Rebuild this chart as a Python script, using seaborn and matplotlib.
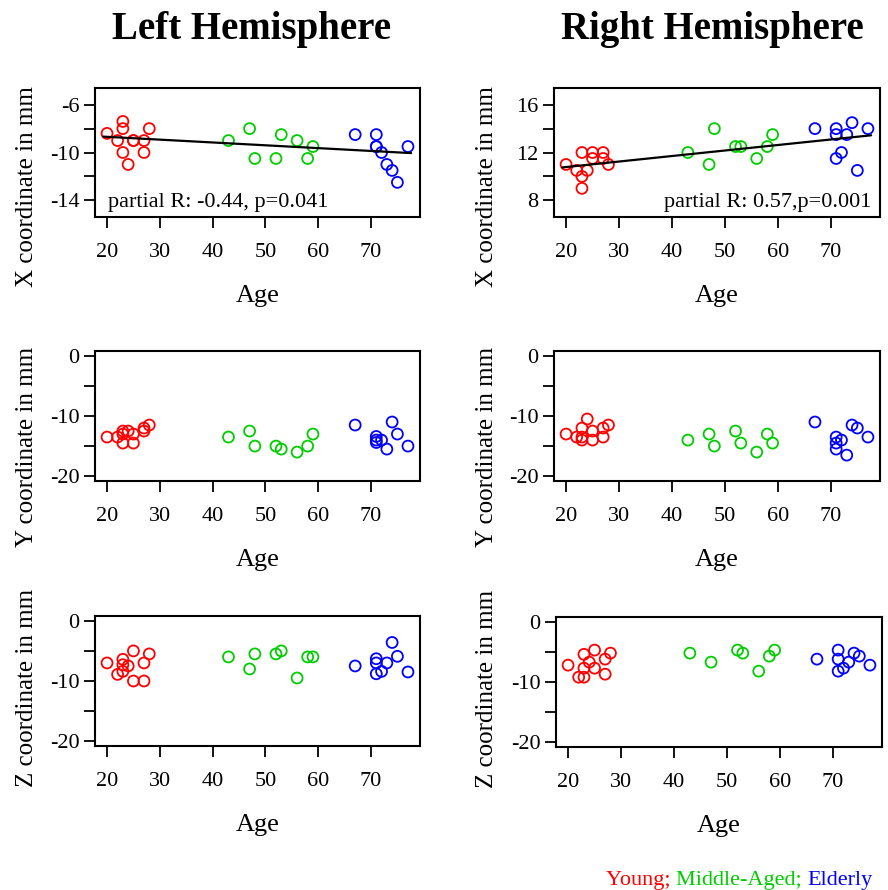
import numpy as np
import pandas as pd
import matplotlib
matplotlib.use("Agg")
import matplotlib.pyplot as plt
import seaborn as sns

# ---------------- data ----------------
groups = ["Young", "Middle-Aged", "Elderly"]
group_colors = ["#FF0000", "#00CD00", "#0000FF"]

age_young = [20, 22, 23, 23, 23, 24, 25, 25, 27, 27, 28]
age_middle = [43, 47, 48, 52, 53, 56, 58, 59]
age_elderly = [67, 71, 71, 71, 72, 73, 74, 75, 77]

# Left hemisphere
lx_young = [-8.4, -9.0, -7.4, -8.0, -10.0, -11.0, -9.0, -9.0, -9.0, -10.0, -8.0]
lx_middle = [-9.0, -8.0, -10.5, -10.5, -8.5, -9.0, -10.5, -9.5]
lx_elderly = [-8.5, -8.5, -9.5, -9.5, -10.0, -11.0, -11.5, -12.5, -9.5]

ly_young = [-13.5, -13.5, -12.5, -14.5, -13.0, -12.5, -13.0, -14.5, -12.5, -12.0, -11.5]
ly_middle = [-13.5, -12.5, -15.0, -15.0, -15.5, -16.0, -15.0, -13.0]
ly_elderly = [-11.5, -13.4, -14.0, -14.4, -14.0, -15.5, -11.0, -13.0, -15.0]

lz_young = [-7.0, -8.9, -6.4, -7.3, -8.4, -7.5, -5.0, -10.0, -7.0, -10.0, -5.5]
lz_middle = [-6.0, -8.0, -5.5, -5.5, -5.0, -9.5, -6.0, -6.0]
lz_elderly = [-7.5, -6.3, -7.0, -8.8, -8.4, -7.0, -3.6, -5.9, -8.5]

# Right hemisphere
rx_young = [11.0, 10.5, 12.0, 10.0, 9.0, 10.5, 12.0, 11.5, 12.0, 11.5, 11.0]
rx_middle = [12.0, 11.0, 14.0, 12.5, 12.5, 11.5, 12.5, 13.5]
rx_elderly = [14.0, 14.0, 13.5, 11.5, 12.0, 13.5, 14.5, 10.5, 14.0]

ry_young = [-13.0, -13.5, -12.0, -13.5, -14.0, -10.5, -12.5, -14.0, -12.0, -13.5, -11.5]
ry_middle = [-14.0, -13.0, -15.0, -12.5, -14.5, -16.0, -13.0, -14.5]
ry_elderly = [-11.0, -13.5, -14.5, -15.5, -14.0, -16.5, -11.5, -12.0, -13.5]

rz_young = [-7.2, -9.2, -5.4, -7.7, -9.2, -6.7, -4.7, -7.7, -6.2, -8.7, -5.2]
rz_middle = [-5.2, -6.7, np.nan, -4.7, -5.2, -8.2, -5.7, -4.7]
rz_elderly = [-6.2, -4.7, -6.2, -8.2, -7.7, -6.7, -5.2, -5.7, -7.2]

# fitted (partial) regression lines
fit_age = [19.3, 77.6]
fit_left_x = [-8.67, -10.05]
fit_right_x = [10.75, 13.44]

stat_left = "partial R: -0.44, p=0.041"
stat_right = "partial R: 0.57,p=0.001"

# ---------------- style ----------------
sns.set_style("ticks")
plt.rcParams["font.family"] = ["Liberation Serif", "DejaVu Serif"]
plt.rcParams["axes.linewidth"] = 1.5
for key in ["text.color", "axes.labelcolor", "xtick.color", "ytick.color",
            "axes.edgecolor"]:
    plt.rcParams[key] = "black"

fig = plt.figure(figsize=(8.88, 8.90), dpi=100)
W, H = 888, 890


def add_ax(left, top, right, bottom):
    return fig.add_axes([left / W, 1 - bottom / H, (right - left) / W, (bottom - top) / H])


def make_df(y, m, e):
    return pd.DataFrame({
        "Age": age_young + age_middle + age_elderly,
        "value": list(y) + list(m) + list(e),
        "Group": ["Young"] * len(age_young) + ["Middle-Aged"] * len(age_middle)
                 + ["Elderly"] * len(age_elderly),
    })


panels = [
    # box (l,t,r,b), data, ylabel, ylabel centre (px from top), ylim, yticks, ylabels
    ((95, 88, 420, 217), (lx_young, lx_middle, lx_elderly), "X coordinate in mm", 187,
     (-15.4, -4.6), [-14, -12, -10, -8, -6], ["-14", "", "-10", "", "-6"]),
    ((554, 88, 880, 217), (rx_young, rx_middle, rx_elderly), "X coordinate in mm", 187,
     (6.6, 17.4), [8, 10, 12, 14, 16], ["8", "", "12", "", "16"]),
    ((95, 351, 420, 481), (ly_young, ly_middle, ly_elderly), "Y coordinate in mm", 447,
     (-20.8, 0.8), [-20, -15, -10, -5, 0], ["-20", "", "-10", "", "0"]),
    ((554, 351, 880, 481), (ry_young, ry_middle, ry_elderly), "Y coordinate in mm", 447,
     (-20.8, 0.8), [-20, -15, -10, -5, 0], ["-20", "", "-10", "", "0"]),
    ((95, 616, 420, 746), (lz_young, lz_middle, lz_elderly), "Z coordinate in mm", 688,
     (-20.8, 0.8), [-20, -15, -10, -5, 0], ["-20", "", "-10", "", "0"]),
    ((556, 617, 882, 747), (rz_young, rz_middle, rz_elderly), "Z coordinate in mm", 689,
     (-20.8, 0.8), [-20, -15, -10, -5, 0], ["-20", "", "-10", "", "0"]),
]

axes = []
for box, data, ylab, ycen, ylim, yt, ytl in panels:
    ax = add_ax(*box)
    df = make_df(*data)
    sns.scatterplot(data=df, x="Age", y="value", hue="Group", hue_order=groups,
                    palette=group_colors, s=62, linewidth=1.3, legend=False, ax=ax)
    coll = ax.collections[-1]
    fc = coll.get_facecolors()
    coll.set_edgecolors(fc)
    coll.set_facecolors("none")
    ax.set_xlim(17.72, 79.28)
    ax.set_ylim(*ylim)
    ax.set_xticks([20, 30, 40, 50, 60, 70])
    ax.set_xticklabels(["20", "30", "40", "50", "60", "70"])
    ax.set_yticks(yt)
    ax.set_yticklabels(ytl)
    ax.tick_params(direction="out", length=8, width=1.3, labelsize=16, pad=3,
                   color="black", labelcolor="black")
    ax.tick_params(axis="x", pad=11)
    ax.set_xlabel("Age", fontsize=19, color="black")
    ax.set_ylabel(ylab, fontsize=18, color="black")
    ax.xaxis.set_label_coords(0.5, -0.525)
    l, t, r, b = box
    xl = ((27 if l < 300 else 487) + 11 - l) / (r - l)
    yl = (b - ycen) / (b - t)
    ax.yaxis.set_label_coords(xl, yl)
    for sp in ax.spines.values():
        sp.set_visible(True)
        sp.set_linewidth(1.5)
        sp.set_color("black")
    axes.append(ax)

# regression lines
sns.lineplot(x=fit_age, y=fit_left_x, color="black", linewidth=1.6, ax=axes[0])
sns.lineplot(x=fit_age, y=fit_right_x, color="black", linewidth=1.6, ax=axes[1])

axes[0].text(0.04, 0.11, stat_left, transform=axes[0].transAxes, fontsize=16,
             ha="left", va="center", color="black")
axes[1].text(0.975, 0.11, stat_right, transform=axes[1].transAxes, fontsize=16,
             ha="right", va="center", color="black")

# titles
fig.text(252 / W, 1 - 29 / H, "Left Hemisphere", fontsize=28, color="black",
         fontweight="bold", ha="center", va="center")
fig.text(712 / W, 1 - 29 / H, "Right Hemisphere", fontsize=28, color="black",
         fontweight="bold", ha="center", va="center")

# coloured legend text
legend_parts = ["Young; ", "Middle-Aged; ", "Elderly"]
renderer = fig.canvas.get_renderer()
xcur = 873
for part, col in zip(reversed(legend_parts), reversed(group_colors)):
    t = fig.text(xcur / W, 1 - 880 / H, part, color=col, fontsize=16,
                 ha="right", va="center")
    bb = t.get_window_extent(renderer=renderer)
    xcur -= bb.width

fig.savefig("out.png", dpi=100)
